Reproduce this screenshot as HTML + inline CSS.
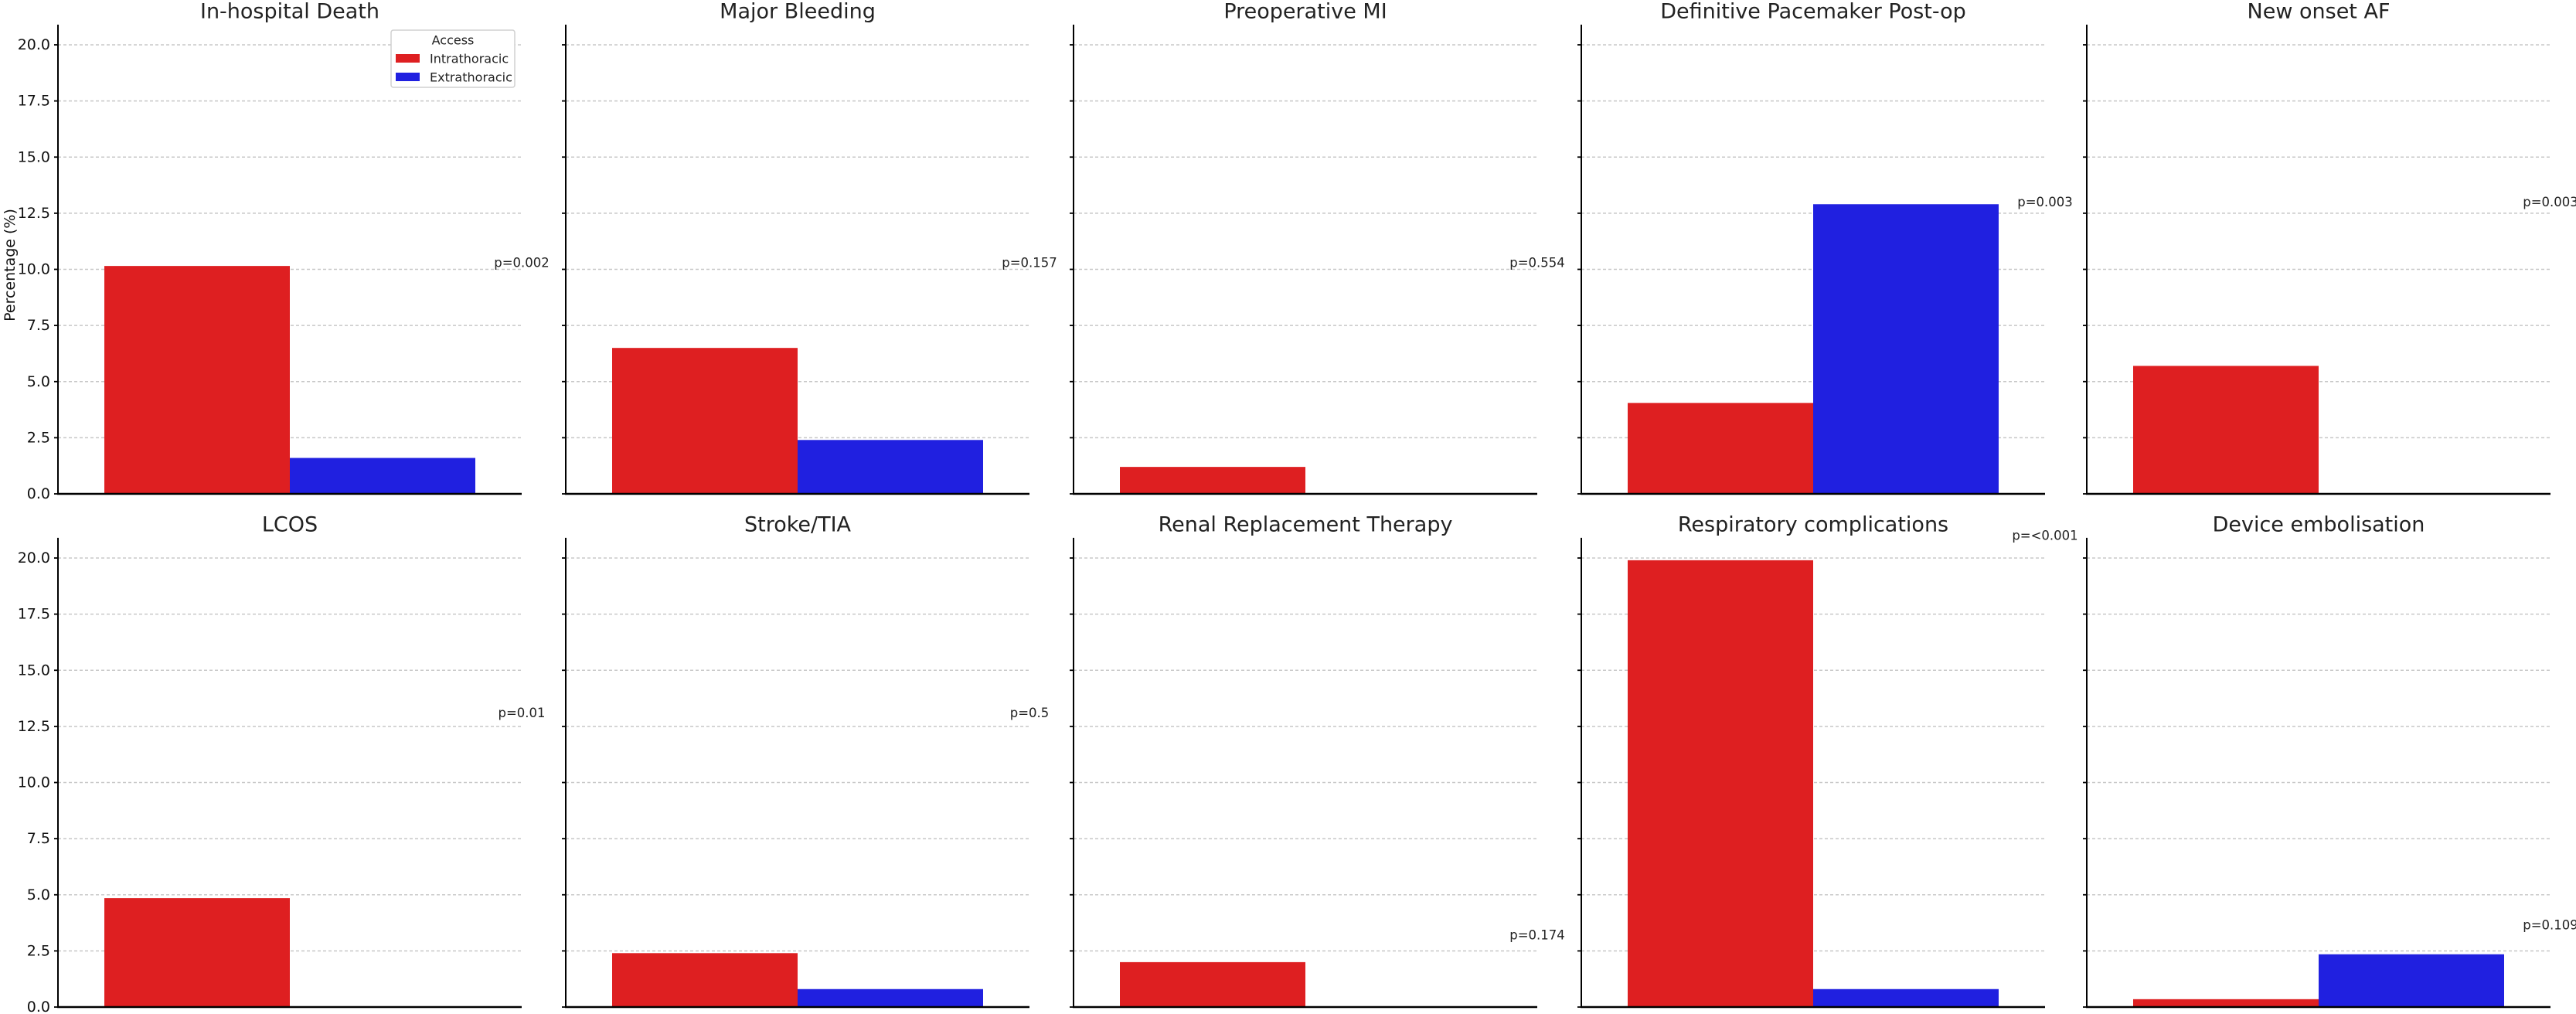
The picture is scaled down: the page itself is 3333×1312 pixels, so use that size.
<!DOCTYPE html>
<html><head><meta charset="utf-8"><title>Outcomes by Access</title>
<style>
html,body{margin:0;padding:0;background:#fff;}
svg{display:block;font-family:"DejaVu Sans","Liberation Sans",sans-serif;}
</style></head>
<body>
<svg id="chart" width="3333" height="1312" viewBox="0 0 3333 1312" xmlns="http://www.w3.org/2000/svg"></svg>
<script>
const titles = ["In-hospital Death","Major Bleeding","Preoperative MI","Definitive Pacemaker Post-op","New onset AF","LCOS","Stroke/TIA","Renal Replacement Therapy","Respiratory complications","Device embolisation"];
const intraValues = [10.15,6.5,1.2,4.05,5.7,4.85,2.4,2.0,19.9,0.35];
const extraValues = [1.6,2.4,0,12.9,0,0,0.8,0,0.8,2.35];
const pLabels = ["p=0.002","p=0.157","p=0.554","p=0.003","p=0.003","p=0.01","p=0.5","p=0.174","p=<0.001","p=0.109"];
const pPositions = [10.3,10.3,10.3,13.0,13.0,13.1,13.1,3.2,21.0,3.65];
const yTicks = [0,2.5,5,7.5,10,12.5,15,17.5,20];
const yTickLabels = ["0.0","2.5","5.0","7.5","10.0","12.5","15.0","17.5","20.0"];
const seriesNames = ["Intrathoracic","Extrathoracic"];

const NS="http://www.w3.org/2000/svg";
const svg=document.getElementById('chart');
const RED="#de1f21", BLUE="#2020e0";
const colLeft=[75,732,1389,2046,2700];
const rowBottom=[639,1303];
const W=600, PX=29.05, YMAX=20.9;
function mk(tag,attrs,parent){const e=document.createElementNS(NS,tag);for(const k in attrs)e.setAttribute(k,attrs[k]);(parent||svg).appendChild(e);return e;}

for(let i=0;i<titles.length;i++){
  const L=colLeft[i%5], B=rowBottom[Math.floor(i/5)];
  const yS=v=>B-v*PX;
  const xS=v=>L+(v+0.5)*W;
  const g=mk('g',{});
  
  
  // gridlines + ticks
  yTicks.forEach((t,k)=>{
    if(t>0){
      const gl=mk('line',{x1:L,x2:L+W,y1:yS(t),y2:yS(t),stroke:'#c8c8c8','stroke-width':1.6,'stroke-dasharray':'4,3'},g);
      
      
    }
    const tk=mk('line',{x1:L-5,x2:L,y1:yS(t),y2:yS(t),stroke:'#000','stroke-width':1.8},g);
    
    
    if(i%5===0){
      const tl=mk('text',{x:L-10,y:yS(t),'text-anchor':'end','dominant-baseline':'central','font-size':19,fill:'#111'},g);
      tl.textContent=yTickLabels[k];
      
      
    }
  });
  // bars
  const b1=mk('rect',{x:xS(-0.4),y:yS(intraValues[i]),width:xS(0)-xS(-0.4),height:intraValues[i]*PX,fill:RED},g);
  
  
  const b2=mk('rect',{x:xS(0),y:yS(extraValues[i]),width:xS(0.4)-xS(0),height:extraValues[i]*PX,fill:BLUE},g);
  
  
  // spines
  const sl=mk('line',{x1:L,x2:L,y1:yS(YMAX),y2:B+1,stroke:'#000','stroke-width':2},g);
  
  
  const sb=mk('line',{x1:L-1,x2:L+W,y1:B,y2:B,stroke:'#000','stroke-width':2.4},g);
  
  
  // title
  const tt=mk('text',{x:L+W/2,y:yS(YMAX)-17,'text-anchor':'middle','dominant-baseline':'central','font-size':27,fill:'#222'},g);
  tt.textContent=titles[i];
  
  
  // p-value
  const pv=mk('text',{x:xS(0.5),y:yS(pPositions[i]),'text-anchor':'middle','dominant-baseline':'central','font-size':16.5,fill:'#222'},g);
  pv.textContent=pLabels[i];
  
  
}
// y-axis title
const yt=mk('text',{x:0,y:0,'text-anchor':'middle','dominant-baseline':'central','font-size':19,fill:'#111',transform:'translate(13,343) rotate(-90)'});
yt.textContent='Percentage (%)';


// legend
const lg=mk('g',{});


const lb=mk('rect',{x:506,y:39,width:160,height:74,rx:3,fill:'#fff',stroke:'#d0d0d0','stroke-width':1.5},lg);


const lt=mk('text',{x:586,y:52,'text-anchor':'middle','dominant-baseline':'central','font-size':16,fill:'#222'},lg);
lt.textContent='Access';


[RED,BLUE].forEach((c,k)=>{
  const e=mk('g',{},lg);
  
  
  mk('rect',{x:512,y:70+k*24,width:31,height:11,fill:c},e);
  const tx=mk('text',{x:556,y:76+k*24,'dominant-baseline':'central','font-size':16,fill:'#222'},e);
  tx.textContent=seriesNames[k];
});
</script>
</body></html>
